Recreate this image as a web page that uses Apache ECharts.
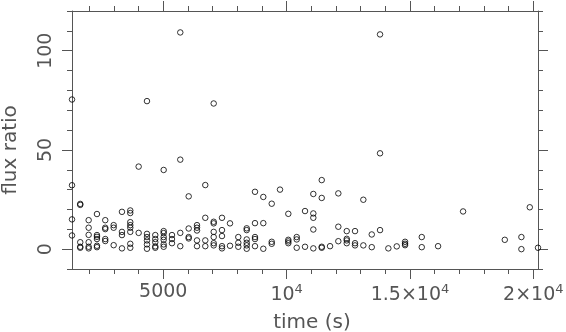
<!DOCTYPE html>
<html>
<head>
<meta charset="utf-8">
<script src="https://cdn.jsdelivr.net/npm/echarts@6/dist/echarts.min.js"></script>
<style>
  html, body { margin: 0; padding: 0; background: #fff; }
  #chart { width: 566px; height: 332px; }
</style>
</head>
<body>
<div id="chart"></div>
<script>
// time (s) and flux ratio, one entry per circle
const timeS = [
  1300, 1300, 1300, 1300,
  1634, 1634, 1634, 1634, 1634,
  1975, 1975, 1975, 1975, 1975, 1975,
  2312, 2312, 2312, 2312, 2312, 2312,
  2648, 2648, 2648, 2648, 2648,
  2989, 2989, 2989,
  3325, 3325, 3325, 3325,
  3662, 3662, 3662, 3662, 3662, 3662, 3662, 3662,
  4002, 4002,
  4339, 4339, 4339, 4339, 4339, 4339,
  4676, 4676, 4676, 4676, 4676,
  5016, 5016, 5016, 5016, 5016, 5016, 5016,
  5353, 5353, 5353,
  5689, 5689, 5689, 5689,
  6030, 6030, 6030, 6030,
  6367, 6367, 6367, 6367, 6367,
  6703, 6703, 6703, 6703,
  7044, 7044, 7044, 7044, 7044, 7044, 7044,
  7380, 7380, 7380, 7380, 7380,
  7705, 7705,
  8041, 8041, 8041,
  8382, 8382, 8382, 8382, 8382, 8382,
  8718, 8718, 8718, 8718, 8718,
  9055, 9055, 9055,
  9396, 9396, 9396,
  9732,
  10069, 10069, 10069, 10069,
  10409, 10409, 10409,
  10746, 10746,
  11082, 11082, 11082, 11082, 11082,
  11423, 11423, 11423, 11423,
  11760,
  12096, 12096, 12096,
  12437, 12437, 12437, 12437,
  12773, 12773, 12773,
  13110, 13110,
  13451, 13451,
  13787, 13787, 13787,
  14124,
  14464,
  14801, 14801, 14801,
  15478, 15478,
  16139,
  17153,
  18844,
  19517, 19517,
  19857,
  20190
];
const fluxRatio = [
  75.4, 32.2, 15.0, 6.9,
  22.8, 22.3, 3.5, 1.2, 0.7,
  14.6, 10.8, 7.2, 3.5, 1.2, 0.4,
  17.7, 7.1, 6.2, 5.1, 1.7, 1.0,
  14.6, 10.8, 10.1, 5.1, 4.1,
  12.1, 10.8, 2.0,
  18.8, 8.7, 7.1, 0.4,
  19.5, 18.2, 13.6, 12.1, 10.8, 8.7, 2.7, 0.7,
  41.6, 8.2,
  74.6, 7.7, 6.1, 4.4, 2.4, 0.2,
  7.1, 5.1, 3.5, 1.4, 0.7,
  39.9, 9.1, 8.1, 6.1, 4.7, 2.4, 1.2,
  7.1, 5.1, 3.0,
  109.2, 45.1, 8.2, 1.5,
  26.6, 10.4, 6.1, 5.4,
  12.1, 10.8, 9.4, 4.4, 1.5,
  32.3, 15.8, 4.4, 1.5,
  73.4, 13.8, 13.0, 8.7, 6.1, 3.0, 1.9,
  15.8, 9.6, 6.6, 1.5, 0.4,
  13.0, 1.7,
  6.1, 3.2, 1.2,
  10.5, 9.6, 4.9, 3.2, 1.9, 0.2,
  28.9, 13.1, 6.1, 5.1, 1.5,
  26.3, 13.1, 0.2,
  22.9, 3.7, 2.7,
  30.0,
  17.8, 4.7, 3.9, 3.0,
  6.1, 4.9, 0.7,
  19.2, 1.2,
  27.8, 18.0, 15.8, 9.9, 0.4,
  34.8, 25.8, 1.2, 0.7,
  1.5,
  28.1, 11.3, 4.0,
  9.1, 5.2, 4.4, 3.0,
  9.1, 3.0, 1.9,
  24.9, 1.9,
  7.4, 1.0,
  108.2, 48.3, 9.6,
  0.4,
  1.4,
  3.7, 2.7, 2.0,
  6.1, 1.0,
  1.5,
  19.0,
  4.7,
  6.1, 0.0,
  21.1,
  0.7
];

const xRange = [1300, 20190];
const yRange = [-10, 120];
const xMajorTicks = [5000, 10000, 15000, 20000];
const xTickLabels = ['5000', '10{sup|4}', '1.5×10{sup|4}', '2×10{sup|4}'];
const xMinorTicks = [2000, 3000, 4000, 6000, 7000, 8000, 9000, 11000, 12000, 13000, 14000,
  16000, 17000, 18000, 19000];
const yMajorTicks = [0, 50, 100];
const yTickLabels = ['0', '50', '100'];
const yMinorTicks = [-10, 10, 20, 30, 40, 60, 70, 80, 90, 110, 120];

const points = timeS.map((t, i) => [t, fluxRatio[i]]);

const ink = '#555';
const textInk = '#555';
const font = 'DejaVu Sans';
const lineStyle = { color: ink, width: 1 };

function xAxis(gridIndex, position, ticks, len, withLabels) {
  return {
    type: 'value', gridIndex: gridIndex, position: position,
    min: xRange[0], max: xRange[1],
    axisLine: { show: withLabels !== null, onZero: false, lineStyle: lineStyle },
    axisTick: { show: true, customValues: ticks, length: len, lineStyle: lineStyle },
    axisLabel: withLabels ? {
      show: true, customValues: xMajorTicks, margin: 14,
      fontFamily: font, fontSize: 19, color: textInk,
      formatter: (v) => xTickLabels[xMajorTicks.indexOf(v)],
      rich: { sup: { fontFamily: font, fontSize: 13, color: textInk, padding: [0, 0, 11, 0] } }
    } : { show: false },
    splitLine: { show: false }
  };
}
function yAxis(gridIndex, position, ticks, len, withLabels) {
  return {
    type: 'value', gridIndex: gridIndex, position: position,
    min: yRange[0], max: yRange[1],
    axisLine: { show: withLabels !== null, onZero: false, lineStyle: lineStyle },
    axisTick: { show: true, customValues: ticks, length: len, lineStyle: lineStyle },
    axisLabel: withLabels ? {
      show: true, customValues: yMajorTicks, rotate: 90, margin: 16,
      fontFamily: font, fontSize: 19, color: textInk,
      formatter: (v) => yTickLabels[yMajorTicks.indexOf(v)]
    } : { show: false },
    splitLine: { show: false }
  };
}

const bottomX = xAxis(0, 'bottom', xMajorTicks, 10, true);
bottomX.name = 'time (s)';
bottomX.nameLocation = 'middle';
bottomX.nameGap = 44;
bottomX.nameTextStyle = { fontFamily: font, fontSize: 20, color: textInk, padding: [0, 0, 0, 14] };

const leftY = yAxis(0, 'left', yMajorTicks, 10, true);
leftY.name = 'flux ratio';
leftY.nameLocation = 'middle';
leftY.nameGap = 51;
leftY.nameTextStyle = { fontFamily: font, fontSize: 20, color: textInk, padding: [0, 20, 0, 0] };

const gridBox = { left: 72, right: 28, top: 11, bottom: 63, outerBoundsMode: 'none' };

const option = {
  animation: false,
  backgroundColor: '#fff',
  grid: [Object.assign({}, gridBox), Object.assign({}, gridBox)],
  xAxis: [
    bottomX,
    xAxis(0, 'top', xMajorTicks, 10, false),
    xAxis(1, 'bottom', xMinorTicks, 5, null),
    xAxis(1, 'top', xMinorTicks, 5, null)
  ],
  yAxis: [
    leftY,
    yAxis(0, 'right', yMajorTicks, 10, false),
    yAxis(1, 'left', yMinorTicks, 5, null),
    yAxis(1, 'right', yMinorTicks, 5, null)
  ],
  series: [{
    type: 'scatter',
    xAxisIndex: 0,
    yAxisIndex: 0,
    symbol: 'circle',
    symbolSize: 5.5,
    itemStyle: { color: 'rgba(0,0,0,0)', borderColor: '#000', borderWidth: 1 },
    data: points
  }]
};

const myChart = echarts.init(document.getElementById('chart'));
myChart.setOption(option);
window.addEventListener('resize', function () {
  myChart.resize();
});
</script>
</body>
</html>
